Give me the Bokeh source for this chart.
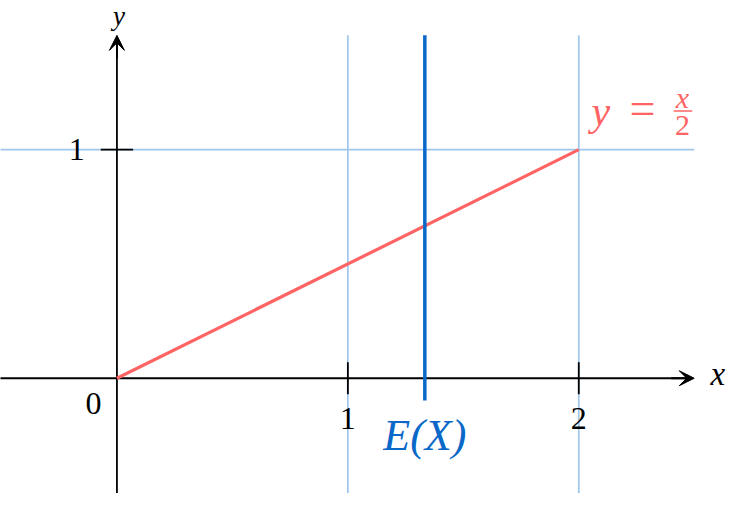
from bokeh.plotting import figure
from bokeh.models import Range1d, Arrow, VeeHead
from bokeh.core.properties import value
from bokeh.embed import file_html
from bokeh.resources import INLINE

# ---- data ----
grid_x = [1, 2]            # vertical helper lines
grid_y = [1]               # horizontal helper line
xtick_vals = [1, 2]
xtick_labels = ["1", "2"]
ytick_vals = [1]
ytick_labels = ["1"]
line_x = [0, 2]            # y = x/2 on [0, 2]
line_y = [0, 1]
expectation = 4 / 3        # E(X)

# extents of the drawing
lo, hi = -0.5, 2.5
ylo, yhi = -0.5, 1.5
tick = 0.07

RED = "#ff6464"
BLUE = "#0a68c8"
LIGHT = "#a0c7eb"
SERIF = value("Liberation Serif")

W, H = 727, 493
S = 236.0  # reference pixels per unit


def X(px):
    return (px - 119) / S


def Y(py):
    return (390 - py) / S


p = figure(width=W, height=H, output_backend="svg", toolbar_location=None,
           x_axis_type=None, y_axis_type=None,
           x_range=Range1d(X(0), X(743)), y_range=Range1d(Y(509), Y(0)),
           min_border=0, outline_line_color=None)
p.grid.visible = False

# helper grid lines
p.segment(x0=grid_x, y0=[ylo - 0.1] * len(grid_x), x1=grid_x, y1=[yhi] * len(grid_x),
          line_color=LIGHT, line_width=1.7)
p.segment(x0=[lo - 0.1] * len(grid_y), y0=grid_y, x1=[hi] * len(grid_y), y1=grid_y,
          line_color=LIGHT, line_width=1.7)

# axes
p.segment(x0=[0], y0=[ylo - 0.1], x1=[0], y1=[yhi - 0.02], line_color="black", line_width=1.8)
p.segment(x0=[lo - 0.1], y0=[0], x1=[hi - 0.02], y1=[0], line_color="black", line_width=1.8)
p.add_layout(Arrow(end=VeeHead(size=15, line_color="black", fill_color="black", line_width=1),
                   x_start=hi - 0.1, y_start=0, x_end=hi, y_end=0,
                   line_color="black", line_width=1.8))
p.add_layout(Arrow(end=VeeHead(size=15, line_color="black", fill_color="black", line_width=1),
                   x_start=0, y_start=yhi - 0.1, x_end=0, y_end=yhi,
                   line_color="black", line_width=1.8))

# ticks
p.segment(x0=xtick_vals, y0=[-tick] * len(xtick_vals), x1=xtick_vals, y1=[tick] * len(xtick_vals),
          line_color="black", line_width=1.8)
p.segment(x0=[-tick] * len(ytick_vals), y0=ytick_vals, x1=[tick] * len(ytick_vals), y1=ytick_vals,
          line_color="black", line_width=1.8)

# tick labels
p.text(x=xtick_vals, y=[Y(432)] * len(xtick_vals), text=xtick_labels,
       text_font=SERIF, text_font_size="32px", text_align="center", text_baseline="middle")
p.text(x=[X(78)] * len(ytick_vals), y=ytick_vals, text=ytick_labels,
       text_font=SERIF, text_font_size="32px", text_align="center", text_baseline="middle")
p.text(x=[X(95)], y=[Y(416)], text=["0"],
       text_font=SERIF, text_font_size="32px", text_align="center", text_baseline="middle")

# axis labels
p.text(x=[X(733)], y=[Y(386)], text=["x"], text_font=SERIF, text_font_style="italic",
       text_font_size="33px", text_align="center", text_baseline="middle")
p.text(x=[X(121)], y=[Y(16)], text=["y"], text_font=SERIF, text_font_style="italic",
       text_font_size="27px", text_align="center", text_baseline="middle")

# function line
p.line(x=line_x, y=line_y, line_color=RED, line_width=3.2)

# E(X)
p.segment(x0=[expectation], y0=[Y(413)], x1=[expectation], y1=[yhi],
          line_color=BLUE, line_width=3.5)
p.text(x=[expectation], y=[Y(449)], text=["E(X)"], text_font=SERIF, text_font_style="italic",
       text_font_size="44px", text_color=BLUE, text_align="center", text_baseline="middle")

# y = x/2 label
p.text(x=[X(604)], y=[Y(114)], text=["y"], text_font=SERIF,
       text_font_style="italic", text_font_size="42px", text_color=RED,
       text_align="left", text_baseline="middle")
p.text(x=[X(656)], y=[Y(112)], text=["="], text_font=SERIF,
       text_font_size="46px", text_color=RED, text_align="center", text_baseline="middle")
p.text(x=[X(697)], y=[Y(100)], text=["x"], text_font=SERIF, text_font_style="italic",
       text_font_size="30px", text_color=RED, text_align="center", text_baseline="middle")
p.segment(x0=[X(688)], y0=[Y(114)], x1=[X(707)], y1=[Y(114)], line_color=RED, line_width=1.5)
p.text(x=[X(697)], y=[Y(129)], text=["2"], text_font=SERIF,
       text_font_size="30px", text_color=RED, text_align="center", text_baseline="middle")

open("out.html", "w").write(file_html(p, INLINE))
